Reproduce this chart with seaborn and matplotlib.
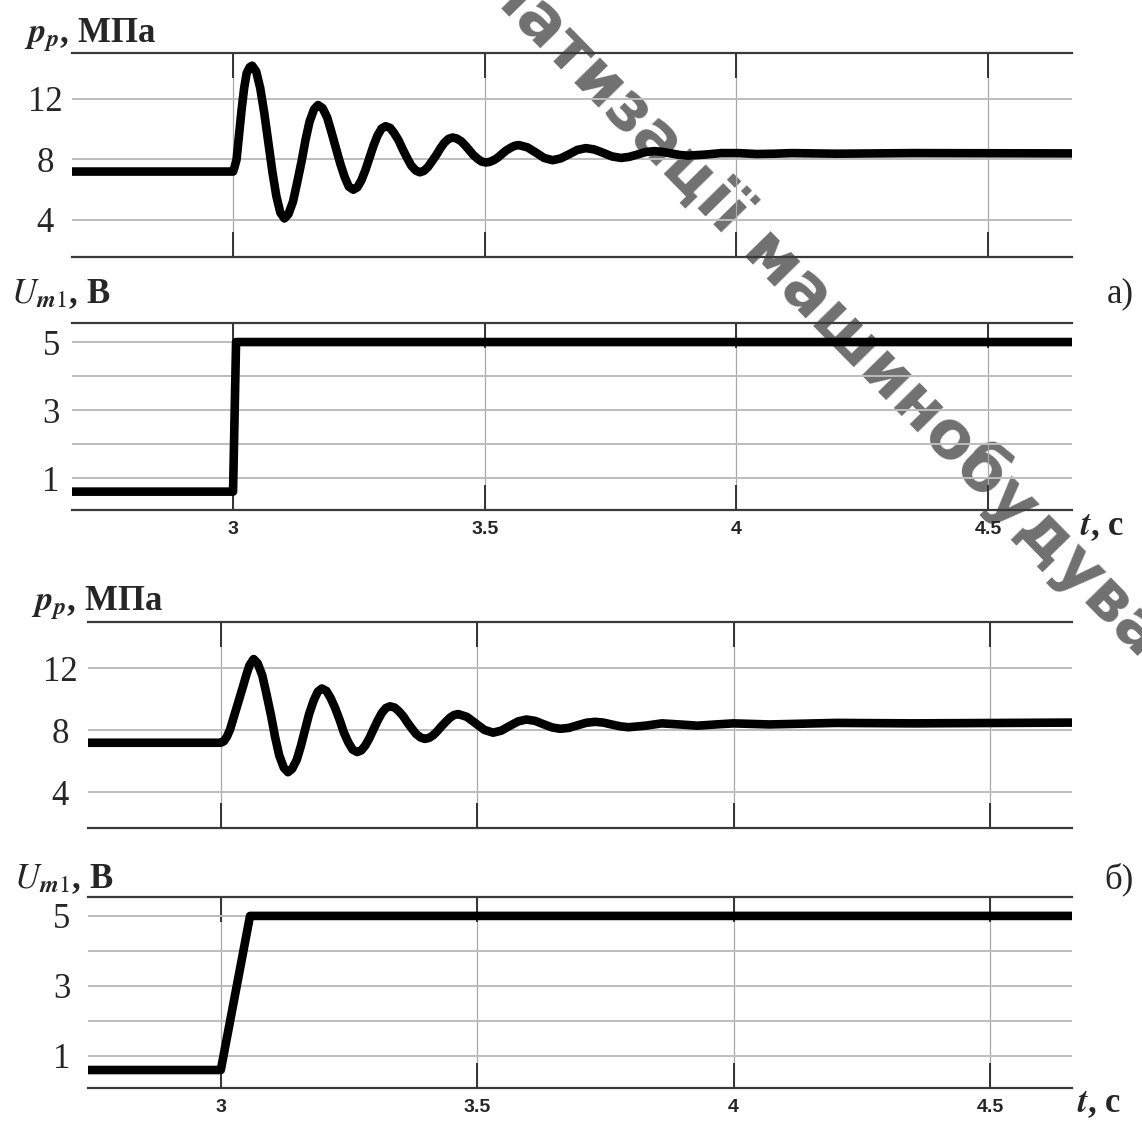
import numpy as np
import pandas as pd
import seaborn as sns
import matplotlib.pyplot as plt

# ---- values ----
x_ticks = [3, 3.5, 4, 4.5]
x_tick_labels = ["3", "3.5", "4", "4.5"]
p_ticks = [4, 8, 12]
p_tick_labels = ["4", "8", "12"]
u_ticks = [1, 2, 3, 4, 5]
u_tick_labels = ["1", "", "3", "", "5"]

# a) pressure p_p, MPa
t_press_a = [2.68, 3.000, 3.003, 3.007, 3.017, 3.022, 3.027, 3.033, 3.038,
             3.046, 3.054, 3.062, 3.070, 3.078, 3.086, 3.094, 3.102,
             3.110, 3.119, 3.127, 3.136, 3.144, 3.152, 3.161, 3.169,
             3.178, 3.187, 3.195, 3.204, 3.213, 3.222, 3.230, 3.239,
             3.247, 3.255, 3.263, 3.271, 3.279, 3.287, 3.295, 3.303,
             3.312, 3.320, 3.329, 3.337, 3.346, 3.354, 3.363, 3.371,
             3.379, 3.387, 3.395, 3.404, 3.412, 3.420, 3.428, 3.436,
             3.444, 3.453, 3.461, 3.469, 3.477, 3.486, 3.494, 3.502,
             3.510, 3.519, 3.527, 3.535, 3.543, 3.552, 3.560, 3.568,
             3.585, 3.602, 3.618, 3.635,
             3.651, 3.668, 3.684, 3.701,
             3.718, 3.736, 3.753, 3.771,
             3.787, 3.804, 3.820, 3.837,
             3.854, 3.870, 3.887, 3.904, 3.937, 3.970, 4.005, 4.040,
             4.075, 4.110, 4.200, 4.350, 4.670]
p_a = [7.2, 7.2, 7.5, 8.0, 11.3, 12.7, 13.7, 14.1, 14.2,
       13.82, 12.72, 11.08, 9.15, 7.22, 5.58, 4.48, 4.1,
       4.38, 5.20, 6.41, 7.85, 9.29, 10.50, 11.32, 11.6,
       11.39, 10.78, 9.87, 8.8, 7.73, 6.82, 6.21, 6.0,
       6.16, 6.62, 7.30, 8.1, 8.90, 9.58, 10.04, 10.2,
       10.09, 9.75, 9.26, 8.68, 8.09, 7.60, 7.27, 7.15,
       7.24, 7.49, 7.86, 8.3, 8.74, 9.11, 9.36, 9.45,
       9.39, 9.21, 8.94, 8.63, 8.31, 8.04, 7.86, 7.8,
       7.84, 7.97, 8.15, 8.38, 8.60, 8.78, 8.91, 8.95,
       8.8, 8.45, 8.1, 7.95,
       8.07, 8.35, 8.63, 8.75,
       8.66, 8.43, 8.2, 8.1,
       8.17, 8.33, 8.49, 8.55,
       8.5, 8.4, 8.3, 8.25, 8.32, 8.42, 8.42, 8.36,
       8.38, 8.42, 8.38, 8.42, 8.4]

# a) control voltage U_m1, V
t_volt_a = [2.68, 3.000, 3.006, 4.67]
u_a = [0.6, 0.6, 5.0, 5.0]

# б) pressure
t_press_b = [2.74, 3.000, 3.006, 3.012, 3.018, 3.023, 3.033, 3.043, 3.050, 3.056, 3.064,
             3.072, 3.081, 3.089, 3.098, 3.106, 3.114, 3.123, 3.131,
             3.139, 3.148, 3.156, 3.164, 3.172, 3.181, 3.189, 3.197,
             3.206, 3.214, 3.223, 3.232, 3.240, 3.249, 3.257, 3.266,
             3.274, 3.282, 3.290, 3.298, 3.306, 3.314, 3.322, 3.330,
             3.339, 3.347, 3.356, 3.364, 3.373, 3.381, 3.390, 3.398,
             3.406, 3.414, 3.422, 3.430, 3.439, 3.447, 3.455, 3.463,
             3.480, 3.497, 3.514, 3.531,
             3.547, 3.563, 3.580, 3.596,
             3.613, 3.629, 3.646, 3.662,
             3.679, 3.696, 3.713, 3.730,
             3.746, 3.762, 3.779, 3.795, 3.828, 3.860, 3.895, 3.930,
             3.965, 4.000, 4.070, 4.200, 4.350, 4.660]
p_b = [7.2, 7.2, 7.3, 7.6, 8.05, 8.6, 9.7, 10.8, 11.6, 12.2, 12.6,
       12.32, 11.53, 10.35, 8.95, 7.55, 6.37, 5.58, 5.3,
       5.51, 6.09, 6.97, 8.0, 9.03, 9.91, 10.49, 10.7,
       10.54, 10.10, 9.44, 8.65, 7.86, 7.20, 6.76, 6.6,
       6.71, 7.03, 7.51, 8.08, 8.64, 9.12, 9.44, 9.55,
       9.47, 9.24, 8.90, 8.5, 8.10, 7.76, 7.53, 7.45,
       7.51, 7.68, 7.94, 8.25, 8.56, 8.82, 8.99, 9.05,
       8.87, 8.45, 8.03, 7.85,
       7.98, 8.28, 8.58, 8.7,
       8.61, 8.4, 8.19, 8.1,
       8.16, 8.33, 8.49, 8.55,
       8.5, 8.38, 8.26, 8.2, 8.3, 8.45, 8.38, 8.3,
       8.38, 8.45, 8.38, 8.48, 8.45, 8.5]

# б) control voltage (ramped)
t_volt_b = [2.74, 3.000, 3.057, 4.66]
u_b = [0.6, 0.6, 5.0, 5.0]

sns.set_style("white")
plt.rcParams['font.family'] = ['Liberation Serif', 'DejaVu Serif']
plt.rcParams['mathtext.fontset'] = 'stix'

W, H = 1142, 1126
fig = plt.figure(figsize=(W / 100, H / 100), dpi=100)


def rect(left, top, right, bottom):
    return [left / W, 1 - bottom / H, (right - left) / W, (bottom - top) / H]


def px(x, y):
    return x / W, 1 - y / H


def style_axis(ax, xlim, ylim, yticks, ylabels, ypad, xlabels):
    ax.set_facecolor('none')
    ax.set_xlim(xlim)
    ax.set_ylim(ylim)
    ax.set_xlabel('')
    ax.set_ylabel('')
    ax.set_xticks(x_ticks)
    if xlabels:
        ax.set_xticklabels(x_tick_labels, family='Liberation Sans',
                           fontweight='bold', fontsize=14)
    else:
        ax.set_xticklabels([])
    ax.set_yticks(yticks, labels=ylabels, ha='center', fontsize=25)
    ax.tick_params(axis='x', direction='in', length=18, width=1.4,
                   color='#333333', top=True, bottom=True, pad=8)
    ax.tick_params(axis='y', length=0, pad=ypad)
    ax.grid(axis='y', color='#bdbdbd', linewidth=1.4)
    ax.grid(axis='x', color='#a8a8a8', linewidth=0.9)
    ax.set_axisbelow(True)
    for side in ['left', 'right']:
        ax.spines[side].set_visible(False)
    for side in ['top', 'bottom']:
        ax.spines[side].set_color('#3a3a3a')
        ax.spines[side].set_linewidth(1.6)


line_kw = dict(color='black', linewidth=6.2, estimator=None, sort=False)

ax1 = fig.add_axes(rect(72, 53, 1072, 257))
sns.lineplot(x=t_press_a, y=p_a, ax=ax1, **line_kw)
style_axis(ax1, (2.68, 4.667), (1.55, 15.04), p_ticks, p_tick_labels, 19.5, False)

ax2 = fig.add_axes(rect(72, 323, 1072, 510))
sns.lineplot(x=t_volt_a, y=u_a, ax=ax2, **line_kw)
style_axis(ax2, (2.68, 4.667), (0.06, 5.56), u_ticks, u_tick_labels, 15, True)

ax3 = fig.add_axes(rect(88, 622, 1072, 828))
sns.lineplot(x=t_press_b, y=p_b, ax=ax3, **line_kw)
style_axis(ax3, (2.741, 4.66), (1.70, 14.99), p_ticks, p_tick_labels, 20, False)

ax4 = fig.add_axes(rect(88, 897, 1072, 1088))
sns.lineplot(x=t_volt_b, y=u_b, ax=ax4, **line_kw)
style_axis(ax4, (2.741, 4.66), (0.086, 5.54), u_ticks, u_tick_labels, 19, True)

for a in [ax1, ax2, ax3, ax4]:
    for line in a.get_lines():
        line.set_solid_joinstyle('round')

# axis captions
lab_kw = dict(fontsize=25, fontweight='bold', ha='left', va='baseline')
fig.text(*px(24, 42), r"$\mathbfit{p}_{\mathbfit{p}}$, МПа", **lab_kw)
fig.text(*px(11, 303), r"$U_{\mathbfit{m}\mathrm{1}}$, В", **lab_kw)
fig.text(*px(31, 610), r"$\mathbfit{p}_{\mathbfit{p}}$, МПа", **lab_kw)
fig.text(*px(14, 888), r"$U_{\mathbfit{m}\mathrm{1}}$, В", **lab_kw)

t_kw = dict(fontsize=25, fontweight='bold', ha='left', va='baseline')
fig.text(*px(1080, 535), r"$\mathbfit{t}$, с", **t_kw)
fig.text(*px(1077, 1112), r"$\mathbfit{t}$, с", **t_kw)

fig.text(*px(1107, 302), "а)", fontsize=25, ha='left', va='baseline')
fig.text(*px(1104, 888), "б)", fontsize=25, ha='left', va='baseline')

# diagonal watermark
fig.text(*px(821, 307), "матизації машинобудува", rotation=-45.5,
         rotation_mode='anchor', ha='center', va='center', fontsize=47,
         fontweight='bold', family='DejaVu Sans', color='#707070', zorder=-1)

fig.savefig('out.png', dpi=100)
